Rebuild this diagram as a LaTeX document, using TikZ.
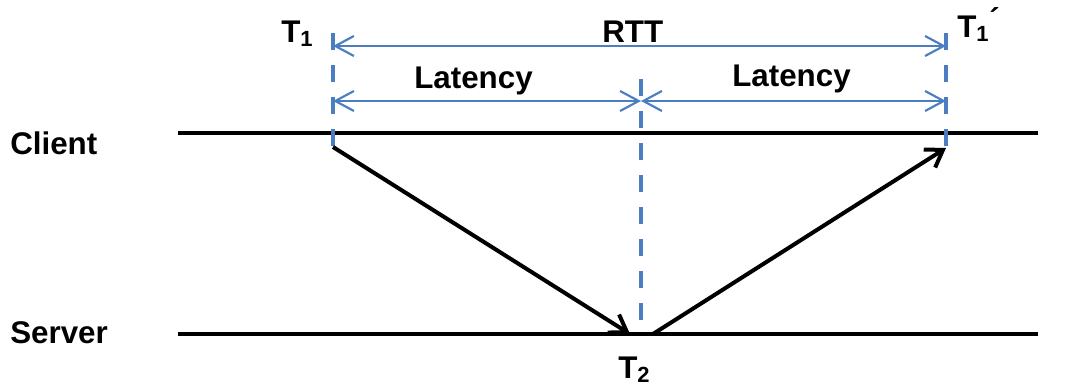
\documentclass[tikz,border=0pt]{standalone}
\usepackage{fontspec}
\setmainfont{Liberation Sans}
\usetikzlibrary{arrows.meta}
\tikzset{
  lbl/.style={font=\fontsize{23.5}{27}\selectfont\bfseries, inner sep=0pt, anchor=base west},
  timeline/.style={line width=3pt, black},
  marker/.style={line width=3pt, color=mblue, dash pattern=on 12.5pt off 11.5pt},
  span/.style={line width=1.6pt, color=mblue, {Straight Barb[length=14pt,width=15pt,line width=1.6pt]}-{Straight Barb[length=14pt,width=15pt,line width=1.6pt]}},
  msg/.style={line width=3pt, black, -{Straight Barb[length=12pt,width=16pt,line width=3pt]}}
}
\definecolor{mblue}{RGB}{74,126,193}
\begin{document}
\begin{tikzpicture}[x=0.75pt,y=-0.75pt]
\useasboundingbox (0,0) rectangle (1065,389);

% time axes
\coordinate (cl) at (178,133);
\coordinate (cr) at (1038,133);
\coordinate (sl) at (178,334);
\coordinate (sr) at (1038,334);
\draw[timeline] (cl) -- (cr);
\draw[timeline] (sl) -- (sr);

% vertical time markers
\coordinate (m1top) at (333,33);
\coordinate (m1bot) at (333,148);
\coordinate (m2top) at (641,79);
\coordinate (m2bot) at (641,326);
\coordinate (m3top) at (946,33);
\coordinate (m3bot) at (946,148);
\draw[marker] (m1top) -- (m1bot);
\draw[marker] (m2top) -- (m2bot);
\draw[marker] (m3top) -- (m3bot);

% spans
\coordinate (r1) at (333,46);
\coordinate (r2) at (946,46);
\coordinate (l1) at (333,101);
\coordinate (l2) at (641,101);
\coordinate (l3) at (946,101);
\draw[span] (r1) -- (r2);
\draw[span] (l1) -- (l2);
\draw[span] (l2) -- (l3);

% messages
\coordinate (req) at (333,147);
\coordinate (reqend) at (630,334);
\coordinate (resp) at (653,334);
\coordinate (respend) at (946,148);
\draw[msg] (req) -- (reqend);
\draw[msg] (resp) -- (respend);

% labels
\node[lbl] (client) at (10,154) {Client};
\node[lbl] (server) at (10,343) {Server};
\node[lbl] (t1) at (281,42) {T\textsubscript{1}};
\node[lbl] (rtt) at (602,42) {RTT};
\node[lbl] (lat1) at (414,88) {Latency};
\node[lbl] (lat2) at (732,86) {Latency};
\node[lbl] (t1p) at (957,37) {T\textsubscript{1}\raisebox{5pt}{´}};
\node[lbl] (t2) at (618,378) {T\textsubscript{2}};
\end{tikzpicture}
\end{document}
